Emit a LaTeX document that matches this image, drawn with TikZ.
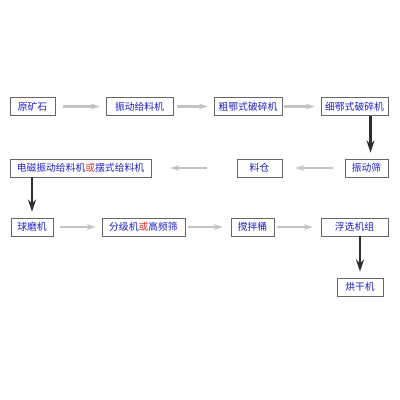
\documentclass[tikz,border=0pt]{standalone}
\usepackage{fontspec}
\newfontfamily\cjk{Noto Sans CJK SC}
\usetikzlibrary{arrows.meta, positioning}
\definecolor{txtblue}{RGB}{30,30,200}
\definecolor{txtred}{RGB}{235,45,45}
\definecolor{flowgray}{RGB}{195,195,195}
\definecolor{flowdark}{RGB}{45,45,45}

\tikzset{
  proc/.style={draw=black!60, line width=0.8pt, fill=white,
               minimum height=18pt, inner sep=1.5pt,
               font=\cjk\fontsize{9.8}{11}\selectfont, text=txtblue},
  flow/.style={-{Stealth[length=9pt, width=6pt]}, line width=2.5pt,
               draw=flowgray, shorten <=4pt, shorten >=6pt},
  drop/.style={-{Stealth[length=12pt, width=8pt]}, line width=2.8pt,
               draw=flowdark, shorten >=6pt},
}
\newcommand{\orword}{\textcolor{txtred}{或}}

\begin{document}
\begin{tikzpicture}[x=1pt, y=-1pt]
  \useasboundingbox[fill=white] (0,0) rectangle (400,400);

  % First row: crushing
  \node[proc, minimum width=45pt] (ore)    at (32.5, 106.5) {原矿石};
  \node[proc, minimum width=67pt] (feeder) at (139.5, 106.5) {振动给料机};
  \node[proc, minimum width=68pt] (coarse) at (248, 106.5) {粗鄂式破碎机};
  \node[proc, minimum width=67pt] (fine)   at (354.5, 106.5) {细鄂式破碎机};

  % Second row: screening and storage
  \node[proc, minimum width=141pt] (emfeed) at (80.5, 168) {电磁振动给料机\orword 摆式给料机};
  \node[proc, minimum width=45pt]  (bin)    at (259.5, 168) {料仓};
  \node[proc, minimum width=43pt]  (screen) at (366.5, 168) {振动筛};

  % Third row: grinding and flotation
  \node[proc, minimum width=42pt] (mill)     at (32, 227) {球磨机};
  \node[proc, minimum width=83pt] (classify) at (143.5, 227) {分级机\orword 高频筛};
  \node[proc, minimum width=43pt] (tank)     at (252.5, 227) {搅拌桶};
  \node[proc, minimum width=67pt] (float)    at (354.5, 227) {浮选机组};

  % Drying
  \node[proc, minimum width=46pt] (dryer) at (360, 287) {烘干机};

  % Gray flow arrows
  \draw[flow, shorten <=8pt] (ore) -- (feeder);
  \draw[flow] (feeder) -- (coarse);
  \draw[flow, shorten <=2pt] (coarse) -- (fine);
  \draw[flow, shorten <=12pt, shorten >=13pt] (screen) -- (bin);
  \draw[flow, shorten <=30pt, shorten >=19pt] (bin) -- (emfeed);
  \draw[flow, shorten <=7pt] (mill) -- (classify);
  \draw[flow, shorten <=3pt, shorten >=8pt] (classify) -- (tank);
  \draw[flow, shorten <=3pt, shorten >=8pt] (tank) -- (float);

  % Dark drop arrows
  \draw[drop] ([xshift=4pt]fine.south -| screen.north) -- ([xshift=4pt]screen.north);
  \draw[drop] (mill.north |- emfeed.south) -- (mill.north);
  \draw[drop] (dryer.north |- float.south) -- (dryer.north);
\end{tikzpicture}
\end{document}
